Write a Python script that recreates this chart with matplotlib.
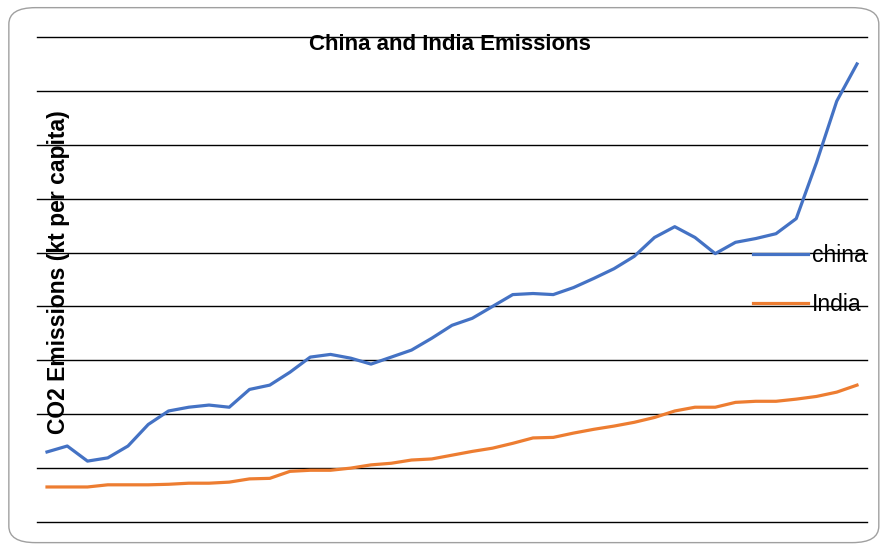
import matplotlib.pyplot as plt
import numpy as np
from matplotlib.patches import FancyBboxPatch

plt.rcParams['font.family'] = ['Liberation Sans', 'DejaVu Sans']

# values (one unit = one gridline step)
years = list(range(1974, 2015))
china = [1.30, 1.41, 1.13, 1.19, 1.41, 1.81, 2.06, 2.13, 2.17, 2.13,
         2.46, 2.54, 2.78, 3.06, 3.11, 3.04, 2.93, 3.06, 3.19, 3.41,
         3.65, 3.78, 4.00, 4.22, 4.24, 4.22, 4.35, 4.52, 4.70, 4.93,
         5.28, 5.48, 5.28, 4.98, 5.19, 5.26, 5.35, 5.63, 6.67, 7.81, 8.50]
india = [0.65, 0.65, 0.65, 0.69, 0.69, 0.69, 0.70, 0.72, 0.72, 0.74,
         0.80, 0.81, 0.94, 0.96, 0.96, 1.00, 1.06, 1.09, 1.15, 1.17,
         1.24, 1.31, 1.37, 1.46, 1.56, 1.57, 1.65, 1.72, 1.78, 1.85,
         1.94, 2.06, 2.13, 2.13, 2.22, 2.24, 2.24, 2.28, 2.33, 2.41, 2.54]

fig = plt.figure(figsize=(8.85, 5.47), dpi=100)
# rounded chart border
fig.patches.append(FancyBboxPatch((0.010, 0.008), 0.983, 0.978,
                                  boxstyle='round,pad=0,rounding_size=0.03',
                                  transform=fig.transFigure, fill=False,
                                  edgecolor='#a0a0a0', linewidth=1.0))

ax = fig.add_axes([37/885, 25/547, 830/885, 485/547])
ax.plot(years, china, color='#4472C4', linewidth=2.3, label='china', zorder=3,
        solid_joinstyle='round')
ax.plot(years, india, color='#ED7D31', linewidth=2.3, label='India', zorder=3,
        solid_joinstyle='round')

ax.set_ylim(0, 9)
ax.set_xlim(years[0] - 0.494, years[-1] + 0.494)
ax.set_yticks(np.arange(0, 10))
ax.set_yticklabels([])
ax.set_xticks([])
ax.tick_params(left=False, bottom=False)
ax.grid(axis='y', color='black', linewidth=1.0)
for gl in ax.get_ygridlines():
    gl.set_clip_on(False)
ax.set_axisbelow(True)
for s in ax.spines.values():
    s.set_visible(False)

fig.text(450/885, 1 - 45/547, 'China and India Emissions', ha='center', va='center',
         fontsize=16, fontweight='bold', zorder=5)
fig.text(59/885, 1 - 272/547, 'CO2 Emissions (kt per capita)', ha='center', va='center',
         rotation=90, fontsize=16.5, fontweight='bold', zorder=5)

ax.legend(loc='center left', bbox_to_anchor=(705/830, 0.499), frameon=False,
          fontsize=16.5, handlelength=2.4, handletextpad=0.15, labelspacing=1.15,
          borderpad=0)

fig.savefig('out.png', dpi=100)
